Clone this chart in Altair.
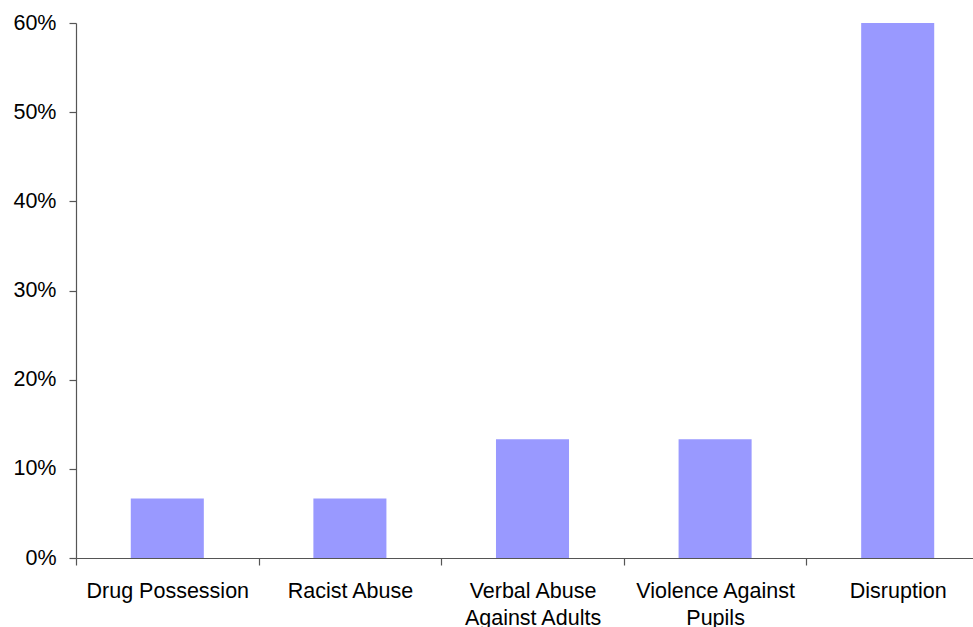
import altair as alt
import pandas as pd

categories = ["Drug Possession", "Racist Abuse", "Verbal Abuse|Against Adults",
              "Violence Against|Pupils", "Disruption"]
values = [0.0667, 0.0667, 0.1333, 0.1333, 0.60]

df = pd.DataFrame({"category": categories, "value": values})

FONT = "Liberation Sans"
AXIS_COLOR = "#555555"

chart = alt.Chart(df).mark_bar(color="#9999FF", width={"band": 0.4}).encode(
    x=alt.X(
        "category:N",
        sort=categories,
        scale=alt.Scale(paddingInner=0, paddingOuter=0, range=[0, 913]),
        axis=alt.Axis(
            title=None,
            labelAngle=0,
            labelExpr="isValid(datum.value) ? split(datum.value, '|') : ''",
            labelFont=FONT,
            labelFontSize=21.5,
            labelColor="#000000",
            labelPadding=15,
            labelLineHeight=27,
            labelBaseline="top",
            tickBand="extent",
            tickSize=7,
            tickColor=AXIS_COLOR,
            domainColor=AXIS_COLOR,
            domainWidth=1.2,
            tickWidth=1.2,
            labelLimit=400,
            grid=False,
        ),
    ),
    y=alt.Y(
        "value:Q",
        scale=alt.Scale(domain=[0, 0.6], nice=False),
        axis=alt.Axis(
            title=None,
            format=".0%",
            values=[0, 0.1, 0.2, 0.3, 0.4, 0.5, 0.6],
            labelFont=FONT,
            labelFontSize=21.5,
            labelColor="#000000",
            labelPadding=13,
            tickSize=7,
            tickColor=AXIS_COLOR,
            domainColor=AXIS_COLOR,
            domainWidth=1.2,
            tickWidth=1.2,
            grid=False,
        ),
    ),
).properties(
    width=897,
    height=535,
    background="white",
    autosize=alt.AutoSizeParams(type="none"),
    padding={"left": 76, "top": 23, "right": 0, "bottom": 69},
).configure_view(stroke=None)

chart.save("out.html", embed_options={"renderer": "svg", "actions": False})
